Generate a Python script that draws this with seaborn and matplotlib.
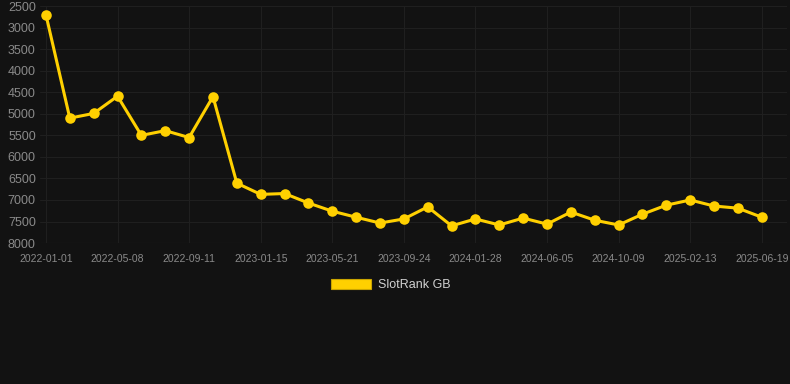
import matplotlib
matplotlib.use("Agg")
import matplotlib.pyplot as plt
import matplotlib.patches as mpatches
import seaborn as sns
import pandas as pd

# chart values (rank, lower is better -> inverted axis)
dates = [
    "2022-01-01", "2022-02-12", "2022-03-26", "2022-05-08", "2022-06-19", "2022-07-31",
    "2022-09-11", "2022-10-23", "2022-12-04", "2023-01-15", "2023-02-26", "2023-04-09",
    "2023-05-21", "2023-07-02", "2023-08-13", "2023-09-24", "2023-11-05", "2023-12-17",
    "2024-01-28", "2024-03-10", "2024-04-23", "2024-06-05", "2024-07-17", "2024-08-28",
    "2024-10-09", "2024-11-20", "2025-01-01", "2025-02-13", "2025-03-27", "2025-05-08",
    "2025-06-19",
]
ranks = [
    2700, 5100, 4990, 4590, 5500, 5390, 5550, 4600, 6610, 6870, 6850, 7070,
    7260, 7400, 7535, 7440, 7160, 7600, 7440, 7580, 7420, 7560, 7280, 7470,
    7580, 7330, 7120, 7000, 7140, 7190, 7400,
]
y_ticks = [2500, 3000, 3500, 4000, 4500, 5000, 5500, 6000, 6500, 7000, 7500, 8000]
series_name = "SlotRank GB"

bg, gold, grid_c, tick_c = "#121212", "#FFD000", "#1f1f1f", "#8a8a8a"

df = pd.DataFrame({"date": dates, "rank": ranks})
df["idx"] = range(len(df))

sns.set_style("dark")
plt.rcParams["font.family"] = ["Liberation Sans", "DejaVu Sans"]

fig = plt.figure(figsize=(7.9, 3.84), dpi=100)
fig.patch.set_facecolor(bg)
ax = fig.add_axes([0.0506, 0.367, 0.9454, 0.617])
ax.set_facecolor(bg)

sns.lineplot(data=df, x="idx", y="rank", ax=ax, color=gold, linewidth=2.2,
             marker="o", markersize=7.6, markeredgewidth=0, legend=False)

ax.set_ylim(8000, 2500)
ax.set_yticks(y_ticks)
ax.set_xlim(-0.25, 31.05)
ax.set_xticks(df["idx"][::3])
ax.set_xticklabels(df["date"][::3])
ax.set_xlabel(""); ax.set_ylabel("")

ax.grid(True, color=grid_c, linewidth=0.8)
ax.tick_params(axis="y", colors=tick_c, labelsize=9, length=0, pad=3)
ax.tick_params(axis="x", colors=tick_c, labelsize=7.5, length=0, pad=8)
for s in ax.spines.values():
    s.set_visible(False)
ax.axhline(8000, color="#2a2a2a", linewidth=0.8)

handle = mpatches.Patch(facecolor=gold, edgecolor="#c9a400", linewidth=0.8, label=series_name)
leg = fig.legend(handles=[handle], loc="center", bbox_to_anchor=(0.495, 0.258), frameon=False,
                 fontsize=9, handlelength=3.2, handleheight=0.9, handletextpad=0.55)
for t in leg.get_texts():
    t.set_color("#d0d0d0")

fig.savefig("out.png", dpi=100, facecolor=bg)
